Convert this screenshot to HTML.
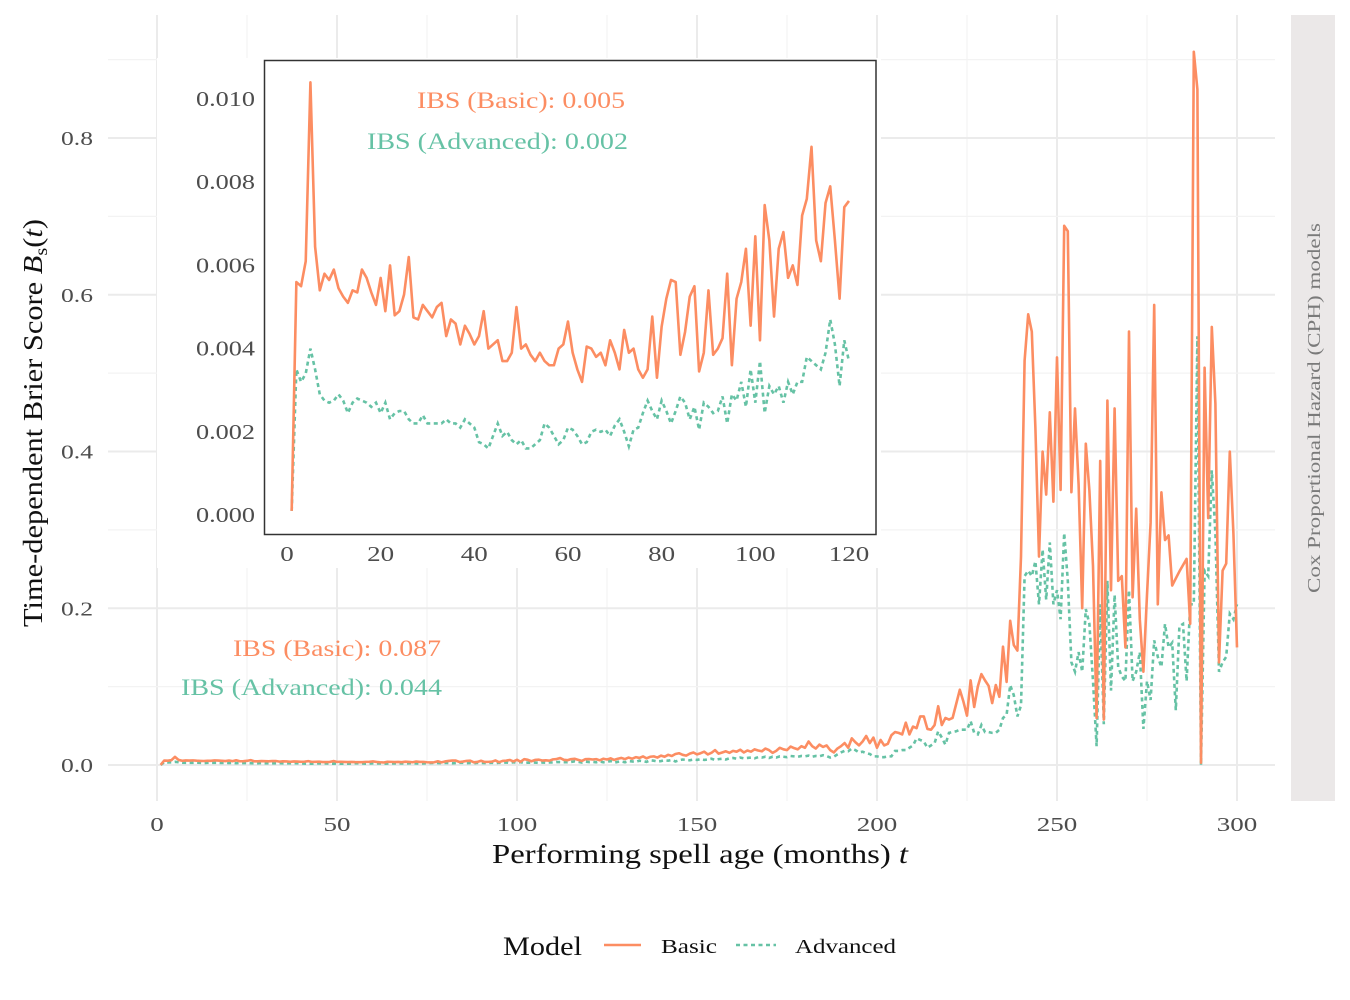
<!DOCTYPE html>
<html><head><meta charset="utf-8"><title>Brier score chart</title>
<style>
html,body{margin:0;padding:0;background:#fff;}
svg{display:block;font-family:"Liberation Serif",serif;}
</style></head>
<body>
<svg id="chart" width="1350" height="1000" viewBox="0 0 1350 1000" xmlns="http://www.w3.org/2000/svg">
<rect x="0" y="0" width="1350" height="1000" fill="#fff"/>
<g id="grid"></g>
<rect x="1291" y="15" width="44" height="786" fill="#ebe8e8"/>
<text transform="translate(1320,408) rotate(-90)" text-anchor="middle" font-size="18" fill="#7a7a7a" textLength="370" lengthAdjust="spacingAndGlyphs">Cox Proportional Hazard (CPH) models</text>
<g id="mainSeries"></g>
<g id="ticks"></g>
<text x="441" y="656" text-anchor="end" font-size="23" fill="#fc8d62" textLength="208" lengthAdjust="spacingAndGlyphs">IBS (Basic): 0.087</text>
<text x="442" y="695" text-anchor="end" font-size="23" fill="#66c2a5" textLength="261" lengthAdjust="spacingAndGlyphs">IBS (Advanced): 0.044</text>
<rect x="157" y="58" width="724" height="510" fill="#fff"/>
<rect x="264.5" y="60.5" width="611.5" height="474" fill="#fff" stroke="#333" stroke-width="1.5"/>
<g id="inset"></g>
<text x="625" y="108" text-anchor="end" font-size="23" fill="#fc8d62" textLength="208" lengthAdjust="spacingAndGlyphs">IBS (Basic): 0.005</text>
<text x="628" y="149" text-anchor="end" font-size="23" fill="#66c2a5" textLength="261" lengthAdjust="spacingAndGlyphs">IBS (Advanced): 0.002</text>
<text x="700" y="863" text-anchor="middle" font-size="27" fill="#111" textLength="416" lengthAdjust="spacingAndGlyphs">Performing spell age (months) <tspan font-style="italic">t</tspan></text>
<text transform="translate(42,423) rotate(-90)" text-anchor="middle" font-size="27" fill="#111" textLength="408" lengthAdjust="spacingAndGlyphs">Time-dependent Brier Score <tspan font-style="italic">B</tspan><tspan font-size="18" dy="5">s</tspan><tspan dy="-5">(</tspan><tspan font-style="italic">t</tspan>)</text>
<g>
<text x="503" y="955" font-size="26" fill="#111" textLength="79" lengthAdjust="spacingAndGlyphs">Model</text>
<line x1="604" y1="945" x2="641" y2="945" stroke="#fc8d62" stroke-width="2.5"/>
<text x="661" y="953" font-size="20" fill="#111" textLength="56" lengthAdjust="spacingAndGlyphs">Basic</text>
<line x1="736" y1="945" x2="776" y2="945" stroke="#66c2a5" stroke-width="2.5" stroke-dasharray="4,3.5"/>
<text x="795" y="953" font-size="20" fill="#111" textLength="101" lengthAdjust="spacingAndGlyphs">Advanced</text>
</g>
</svg>
<script>
const months = [];
for (let i = 1; i <= 300; i++) months.push(i);
const basicScore = [
0.0001,0.0056,0.0055,0.0061,0.0104,0.00645,0.0054,0.0058,0.00565,0.0059,
0.00545,0.00525,0.0051,0.0054,0.00535,0.0059,0.0057,0.00535,0.00505,0.0057,
0.0049,0.006,0.0048,0.0049,0.0053,0.0062,0.00475,0.0047,0.00505,0.0049,
0.00475,0.005,0.0051,0.0043,0.0047,0.0046,0.0041,0.00455,0.00435,0.0041,
0.0043,0.0049,0.004,0.0041,0.0042,0.0037,0.0037,0.0039,0.005,0.004,
0.0041,0.00385,0.0037,0.0039,0.0037,0.0036,0.0036,0.004,0.0041,0.00465,
0.0039,0.0035,0.0032,0.00405,0.004,0.0038,0.0039,0.0036,0.0042,0.0039,
0.0035,0.00445,0.0039,0.004,0.0035,0.0033,0.0035,0.00477,0.0033,0.00453,
0.0052,0.00565,0.0056,0.00385,0.0044,0.00525,0.0055,0.00345,0.0039,0.0054,
0.00385,0.004,0.00425,0.0058,0.0036,0.0052,0.0056,0.0064,0.00455,0.0067,
0.0042,0.00745,0.0066,0.00477,0.0064,0.0068,0.0057,0.006,0.00553,0.0072,
0.0076,0.00885,0.0066,0.0061,0.0075,0.0079,0.0066,0.0052,0.0074,0.00755,
0.007,0.0075,0.006,0.008,0.007,0.0085,0.0065,0.008,0.009,0.0075,
0.0095,0.008,0.010,0.009,0.011,0.0085,0.0105,0.011,0.0095,0.012,
0.0105,0.013,0.0115,0.014,0.015,0.013,0.012,0.0145,0.016,0.0135,
0.015,0.017,0.0135,0.0155,0.019,0.0145,0.016,0.0175,0.0155,0.018,
0.017,0.0195,0.016,0.0185,0.017,0.02,0.0185,0.0175,0.021,0.019,
0.0155,0.018,0.022,0.020,0.019,0.0235,0.0215,0.020,0.024,0.022,
0.030,0.024,0.021,0.026,0.023,0.025,0.019,0.016,0.021,0.024,
0.028,0.022,0.034,0.029,0.025,0.030,0.037,0.028,0.035,0.022,
0.032,0.025,0.027,0.038,0.042,0.041,0.039,0.054,0.039,0.049,
0.047,0.062,0.062,0.046,0.045,0.051,0.075,0.051,0.06,0.058,
0.06,0.078,0.096,0.081,0.063,0.108,0.074,0.1,0.116,0.108,
0.101,0.079,0.102,0.087,0.151,0.106,0.184,0.153,0.146,0.266,
0.516,0.575,0.553,0.43,0.266,0.40,0.345,0.45,0.336,0.52,
0.351,0.688,0.681,0.348,0.455,0.358,0.2,0.41,0.35,0.254,
0.06,0.388,0.058,0.465,0.223,0.455,0.235,0.241,0.15,0.553,
0.214,0.327,0.186,0.119,0.217,0.309,0.587,0.205,0.348,0.287,
0.293,0.229,0.238,0.247,0.255,0.263,0.18,0.91,0.862,0.003,
0.507,0.315,0.559,0.461,0.131,0.248,0.257,0.40,0.296,0.15
];
const advancedScore = [
0.0001,0.0035,0.0032,0.0034,0.0040,0.0035,0.0029,0.00275,0.0027,0.00275,
0.0029,0.00275,0.00245,0.0027,0.0028,0.00275,0.0027,0.0026,0.0027,0.00245,
0.0027,0.0023,0.00245,0.0025,0.0025,0.0023,0.0022,0.0022,0.0024,0.0022,
0.0022,0.0022,0.0022,0.0023,0.0022,0.0022,0.0021,0.0023,0.0022,0.0021,
0.00175,0.0017,0.0016,0.0019,0.0022,0.0019,0.002,0.0018,0.0017,0.0018,
0.0016,0.0016,0.0017,0.0018,0.0022,0.0021,0.0019,0.0017,0.0018,0.0021,
0.00205,0.0019,0.0017,0.00175,0.002,0.00205,0.002,0.00205,0.0019,0.00215,
0.0023,0.002,0.00165,0.00205,0.0021,0.00245,0.00275,0.0025,0.0023,0.00275,
0.0025,0.0022,0.0025,0.00285,0.0027,0.0023,0.0026,0.00205,0.0027,0.0026,
0.00245,0.0025,0.00285,0.0022,0.0029,0.00275,0.0032,0.0026,0.0035,0.0027,
0.0037,0.00245,0.0031,0.0029,0.0031,0.0027,0.0032,0.0029,0.0032,0.0032,
0.0038,0.0037,0.0036,0.0035,0.0039,0.0047,0.0041,0.0031,0.0042,0.0037,
0.004,0.0035,0.0045,0.0035,0.004,0.005,0.003,0.004,0.0045,0.0035,
0.005,0.0045,0.004,0.0055,0.005,0.004,0.006,0.0055,0.0045,0.005,
0.006,0.0055,0.0065,0.0045,0.006,0.007,0.0065,0.006,0.007,0.0065,
0.0075,0.0065,0.007,0.008,0.0065,0.0075,0.008,0.007,0.0085,0.009,
0.008,0.0095,0.0085,0.009,0.0095,0.0085,0.01,0.0095,0.0105,0.009,
0.0105,0.0095,0.011,0.0105,0.01,0.0115,0.011,0.0105,0.0115,0.011,
0.012,0.0105,0.0115,0.011,0.0125,0.0115,0.0095,0.0105,0.0135,0.016,
0.018,0.0175,0.021,0.019,0.016,0.017,0.015,0.014,0.011,0.011,
0.010,0.010,0.011,0.011,0.018,0.018,0.019,0.019,0.022,0.025,
0.034,0.032,0.03,0.022,0.025,0.028,0.043,0.035,0.026,0.041,
0.042,0.043,0.045,0.045,0.045,0.056,0.041,0.039,0.051,0.042,
0.042,0.041,0.041,0.045,0.06,0.064,0.102,0.089,0.062,0.076,
0.241,0.248,0.241,0.26,0.205,0.275,0.211,0.284,0.205,0.223,
0.186,0.296,0.235,0.131,0.119,0.144,0.119,0.199,0.18,0.107,
0.024,0.205,0.052,0.235,0.095,0.217,0.125,0.113,0.107,0.223,
0.107,0.119,0.144,0.046,0.107,0.083,0.159,0.138,0.125,0.18,
0.15,0.156,0.07,0.177,0.18,0.107,0.205,0.205,0.547,0.0,
0.248,0.241,0.376,0.296,0.119,0.131,0.138,0.193,0.186,0.205
];
const mainXTicks = [0,50,100,150,200,250,300];
const mainYTicks = [0,0.2,0.4,0.6,0.8];
const mainYTickLabels = ["0.0","0.2","0.4","0.6","0.8"];
const insetXTicks = [0,20,40,60,80,100,120];
const insetYTicks = [0,0.002,0.004,0.006,0.008,0.010];
const insetYTickLabels = ["0.000","0.002","0.004","0.006","0.008","0.010"];
const insetMaxMonth = 120;

const NS = "http://www.w3.org/2000/svg";
function mk(tag, attrs, parent){const e=document.createElementNS(NS,tag);for(const k in attrs)e.setAttribute(k,attrs[k]);parent.appendChild(e);return e;}
function tlen(s){let w=0;for(const c of String(s)){w+=(c==='.')?5:13.5;}return w;}
const mx = v => 157 + v*3.6;
const my = v => 765 - v*783.75;
const PL=108, PR=1275, PT=15, PB=801;
const grid = document.getElementById('grid');
for (let v=-25; v<=325; v+=25){const x=mx(v); if(x<PL||x>PR) continue;
  const l=mk('line',{x1:x,y1:PT,x2:x,y2:PB,stroke:(v%50===0)?'#ebebeb':'#f3f3f3','stroke-width':(v%50===0)?2:1.2},grid);
  
  }
for (let k=0; k<=9; k++){const v=k/10; const y=my(v);
  const l=mk('line',{x1:PL,y1:y,x2:PR,y2:y,stroke:(k%2===0)?'#ebebeb':'#f3f3f3','stroke-width':(k%2===0)?2:1.2},grid);
  
  }
const ticks = document.getElementById('ticks');
mainXTicks.forEach(v=>{const t=mk('text',{x:mx(v),y:831,'text-anchor':'middle','font-size':20,fill:'#4d4d4d',textLength:tlen(v),lengthAdjust:'spacingAndGlyphs'},ticks);t.textContent=v;
  
  });
mainYTicks.forEach((v,i)=>{const t=mk('text',{x:93,y:my(v)+7,'text-anchor':'end','font-size':20,fill:'#4d4d4d',textLength:tlen(mainYTickLabels[i]),lengthAdjust:'spacingAndGlyphs'},ticks);t.textContent=mainYTickLabels[i];
  
  });
function pathFor(xs, ys, fx, fy, filt){let d='';let first=true;
  for(let i=0;i<xs.length;i++){if(filt&&!filt(xs[i]))continue;d+=(first?'M':'L')+fx(xs[i]).toFixed(2)+','+fy(ys[i]).toFixed(2);first=false;}return d;}
const ms = document.getElementById('mainSeries');
const pa = mk('path',{d:pathFor(months,advancedScore,mx,my),fill:'none',stroke:'#66c2a5','stroke-width':2.6,'stroke-dasharray':'4,3.5'},ms);


const pb = mk('path',{d:pathFor(months,basicScore,mx,my),fill:'none',stroke:'#fc8d62','stroke-width':2.6,'stroke-linejoin':'round'},ms);


const ix = v => 287 + v*4.683;
const iy = v => 515 - v*41600;
const inset = document.getElementById('inset');
const defs = mk('defs',{},inset);
const cp = mk('clipPath',{id:'insetClip'},defs);
mk('rect',{x:265,y:61,width:610,height:473},cp);
const ig = mk('g',{'clip-path':'url(#insetClip)'},inset);
const ia = mk('path',{d:pathFor(months,advancedScore,ix,iy,t=>t<=insetMaxMonth),fill:'none',stroke:'#66c2a5','stroke-width':2.6,'stroke-dasharray':'4,3.5'},ig);


const ib = mk('path',{d:pathFor(months,basicScore,ix,iy,t=>t<=insetMaxMonth),fill:'none',stroke:'#fc8d62','stroke-width':2.6,'stroke-linejoin':'round'},ig);


insetXTicks.forEach(v=>{const t=mk('text',{x:ix(v),y:561,'text-anchor':'middle','font-size':21,fill:'#4d4d4d',textLength:tlen(v),lengthAdjust:'spacingAndGlyphs'},inset);t.textContent=v;
  
  });
insetYTicks.forEach((v,i)=>{const t=mk('text',{x:255,y:iy(v)+7,'text-anchor':'end','font-size':21,fill:'#4d4d4d',textLength:tlen(insetYTickLabels[i]),lengthAdjust:'spacingAndGlyphs'},inset);t.textContent=insetYTickLabels[i];
  
  });
</script>
</body></html>
